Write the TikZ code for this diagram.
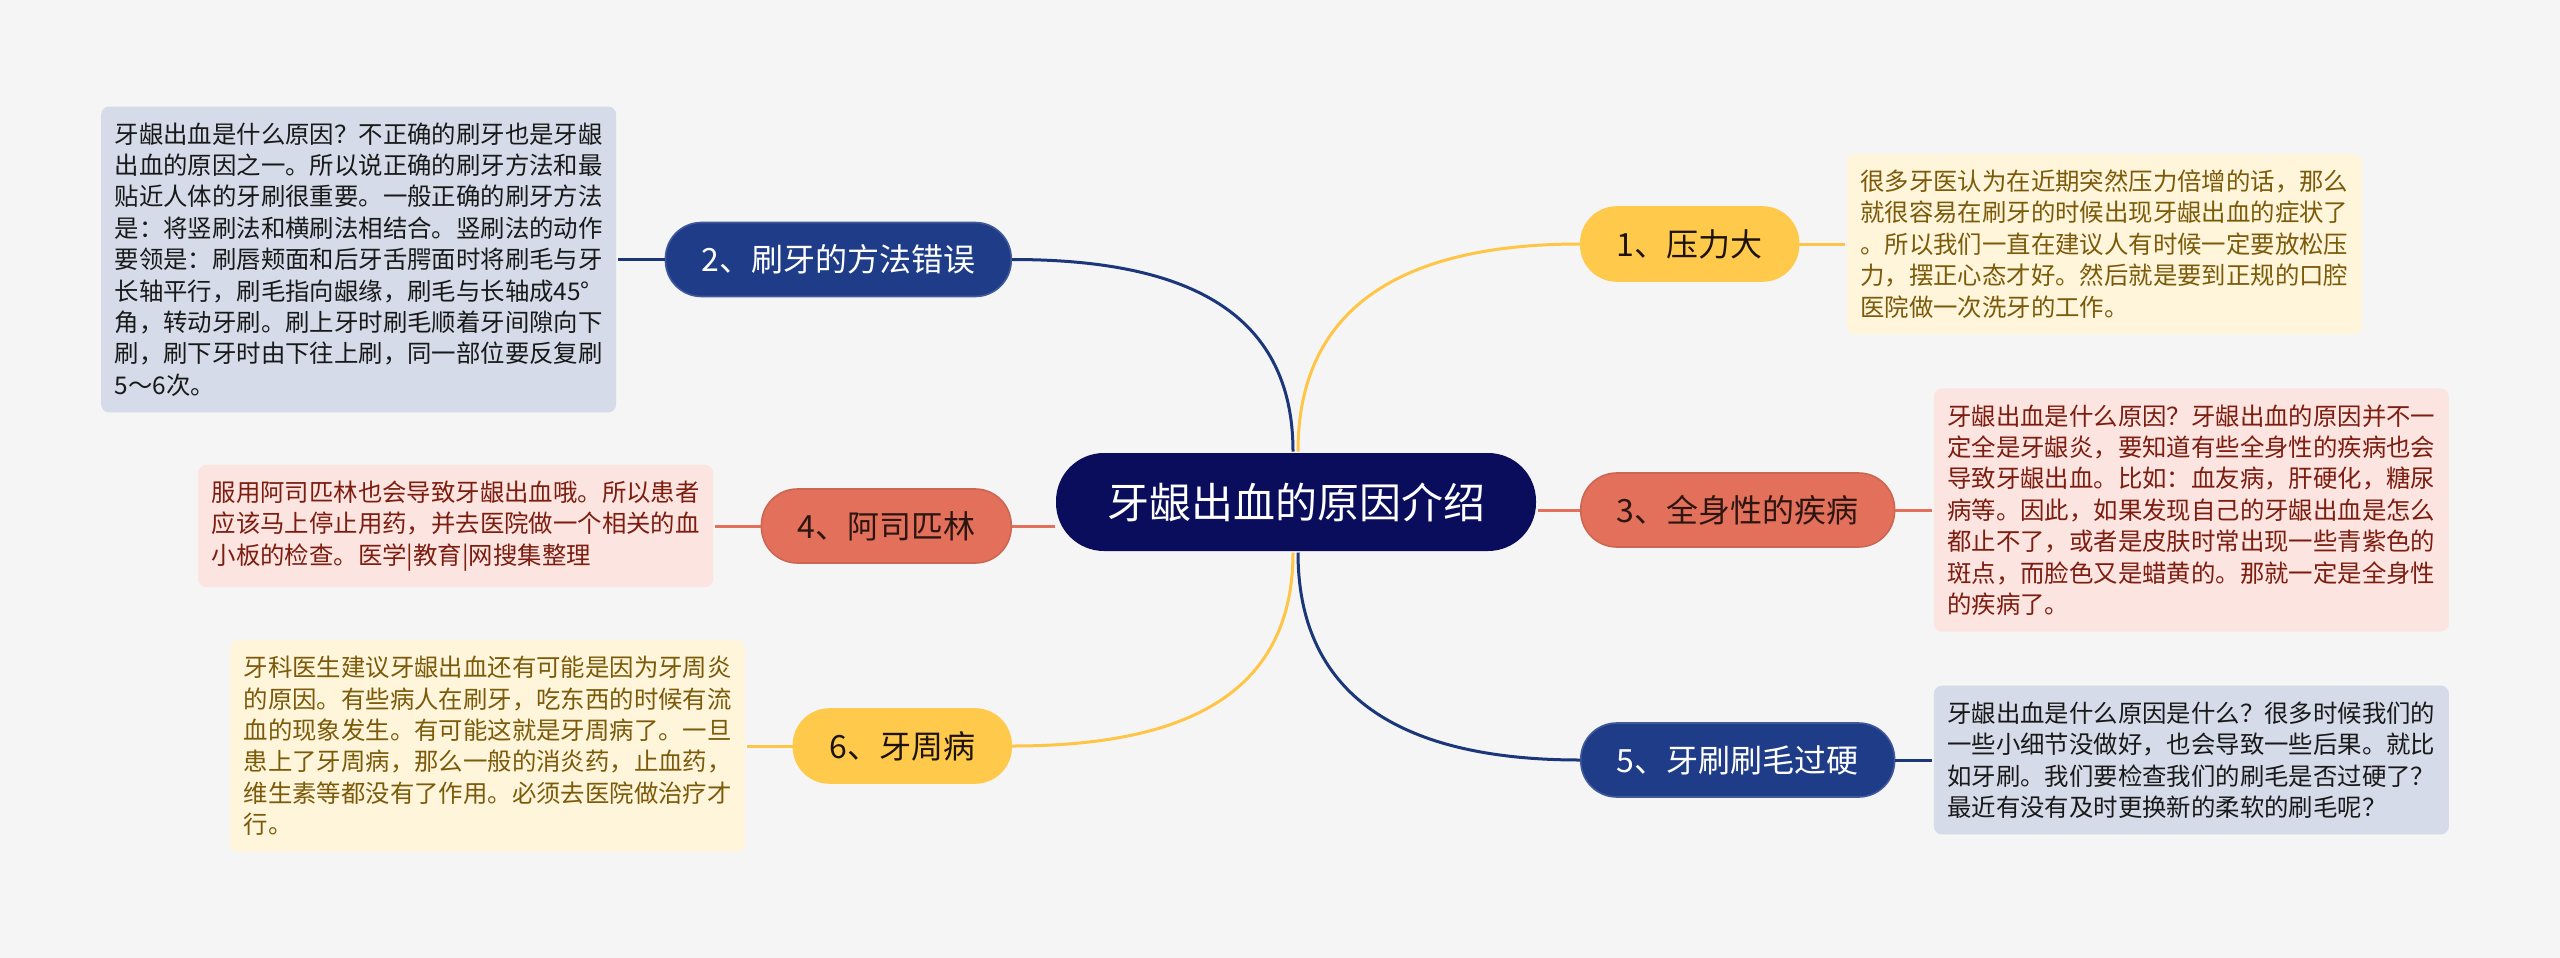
\documentclass[tikz,border=0pt]{standalone}
\usepackage{fontspec}
\setmainfont{Noto Sans CJK SC}
\usepackage{tikz}
\usetikzlibrary{positioning}
\definecolor{bg}{HTML}{F5F5F5}
\definecolor{navy}{HTML}{0A0D5B}
\definecolor{brblue}{HTML}{1F3C88}
\definecolor{bryellow}{HTML}{FFC94B}
\definecolor{brcoral}{HTML}{E3705A}
\definecolor{ntblue}{HTML}{D5DBE9}
\definecolor{ntcream}{HTML}{FFF5DB}
\definecolor{ntpink}{HTML}{FCE4E0}
\definecolor{txcream}{HTML}{7B5A0A}
\definecolor{txpink}{HTML}{7D1D10}
\tikzset{
  mind/.style={x=0.5pt,y=-0.5pt,
    line width=1.5pt,
    node distance=23pt},
  root/.style={rectangle,rounded corners=24pt,fill=navy,text=white,
    minimum height=49pt,inner xsep=25.5pt,
    font=\fontsize{21pt}{25pt}\selectfont},
  branch/.style={rectangle,rounded corners=18pt,minimum height=37pt,
    inner xsep=18pt,line width=0.8pt,
    font=\fontsize{16pt}{19pt}\selectfont},
  blue branch/.style={branch,fill=brblue,draw=brblue!85!white,text=white},
  yellow branch/.style={branch,fill=bryellow,draw=bryellow,text=black!85!brown},
  coral branch/.style={branch,fill=brcoral,draw=brcoral!90!black,text=black!80!brcoral},
  note/.style={rectangle,rounded corners=4pt,text width=244pt,
    inner xsep=6.75pt,inner ysep=8pt,align=left,
    font=\fontsize{12.2pt}{15.7pt}\selectfont},
  blue note/.style={note,fill=ntblue,text=black!90},
  yellow note/.style={note,fill=ntcream,text=txcream},
  coral note/.style={note,fill=ntpink,text=txpink},
  blue line/.style={draw=brblue!90!black},
  yellow line/.style={draw=bryellow!95!orange},
  coral line/.style={draw=brcoral}
}
\begin{document}
\begin{tikzpicture}[mind]
  \fill[bg] (0,0) rectangle (2560,958);
  \node[root] (c) at (1296,502) {牙龈出血的原因介绍};
  \node[yellow branch,anchor=west] (b1) at (1580,244) {1、压力大};
  \node[blue branch,anchor=east] (b2) at (1012,259.5) {2、刷牙的方法错误};
  \node[coral branch,anchor=west] (b3) at (1580,510) {3、全身性的疾病};
  \node[coral branch,anchor=east] (b4) at (1012,526) {4、阿司匹林};
  \node[blue branch,anchor=west] (b5) at (1580,760) {5、牙刷刷毛过硬};
  \node[yellow branch,anchor=east] (b6) at (1012,746) {6、牙周病};

  \node[yellow note,right=23pt of b1] (n1) {很多牙医认为在近期突然压力倍增的话，那么\\
    就很容易在刷牙的时候出现牙龈出血的症状了\\
    。所以我们一直在建议人有时候一定要放松压\\
    力，摆正心态才好。然后就是要到正规的口腔\\
    医院做一次洗牙的工作。};
  \node[blue note,left=23.5pt of b2] (n2) {牙龈出血是什么原因？不正确的刷牙也是牙龈\\
    出血的原因之一。所以说正确的刷牙方法和最\\
    贴近人体的牙刷很重要。一般正确的刷牙方法\\
    是：将竖刷法和横刷法相结合。竖刷法的动作\\
    要领是：刷唇颊面和后牙舌腭面时将刷毛与牙\\
    长轴平行，刷毛指向龈缘，刷毛与长轴成45°\\
    角，转动牙刷。刷上牙时刷毛顺着牙间隙向下\\
    刷，刷下牙时由下往上刷，同一部位要反复刷\\
    5～6次。};
  \node[coral note,right=18.5pt of b3] (n3) {牙龈出血是什么原因？牙龈出血的原因并不一\\
    定全是牙龈炎，要知道有些全身性的疾病也会\\
    导致牙龈出血。比如：血友病，肝硬化，糖尿\\
    病等。因此，如果发现自己的牙龈出血是怎么\\
    都止不了，或者是皮肤时常出现一些青紫色的\\
    斑点，而脸色又是蜡黄的。那就一定是全身性\\
    的疾病了。};
  \node[coral note,left=23pt of b4] (n4) {服用阿司匹林也会导致牙龈出血哦。所以患者\\
    应该马上停止用药，并去医院做一个相关的血\\
    小板的检查。医学|教育|网搜集整理};
  \node[blue note,right=18.5pt of b5] (n5) {牙龈出血是什么原因是什么？很多时候我们的\\
    一些小细节没做好，也会导致一些后果。就比\\
    如牙刷。我们要检查我们的刷毛是否过硬了？\\
    最近有没有及时更换新的柔软的刷毛呢？};
  \node[yellow note,left=23pt of b6] (n6) {牙科医生建议牙龈出血还有可能是因为牙周炎\\
    的原因。有些病人在刷牙，吃东西的时候有流\\
    血的现象发生。有可能这就是牙周病了。一旦\\
    患上了牙周病，那么一般的消炎药，止血药，\\
    维生素等都没有了作用。必须去医院做治疗才\\
    行。};

  \draw[yellow line] ([xshift=1pt]c.north) to[out=90,in=180,looseness=1.15] (b1.west);
  \draw[blue line] ([xshift=-1.5pt]c.north) to[out=90,in=0,looseness=1.15] (b2.east);
  \draw[coral line] (c.east |- b3.west) -- (b3.west);
  \draw[coral line] (b4.east) -- (b4.east -| c.west);
  \draw[blue line] ([xshift=1pt]c.south) to[out=-90,in=180,looseness=1.15] (b5.west);
  \draw[yellow line] ([xshift=-1.5pt]c.south) to[out=-90,in=0,looseness=1.15] (b6.east);

  \draw[yellow line] (b1.east) -- (n1.west);
  \draw[blue line] (b2.west) -- (n2.east);
  \draw[coral line] (b3.east) -- (n3.west);
  \draw[coral line] (b4.west) -- (n4.east);
  \draw[blue line] (b5.east) -- (n5.west);
  \draw[yellow line] (b6.west) -- (n6.east);
\end{tikzpicture}
\end{document}
